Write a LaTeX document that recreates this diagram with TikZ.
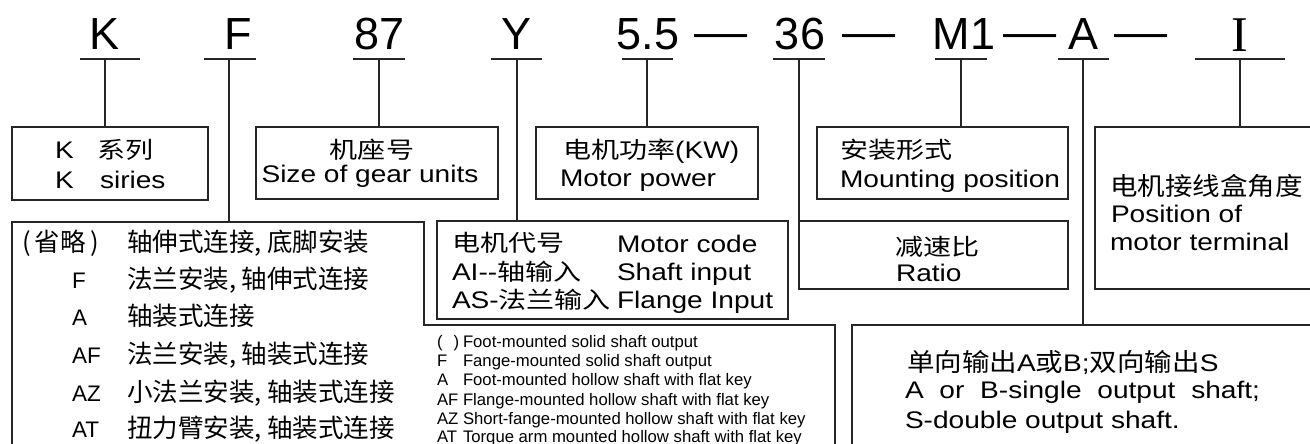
\documentclass[tikz,border=0pt]{standalone}
\usepackage{fontspec}
\setmainfont{Liberation Sans}
\newfontfamily\lat[FakeStretch=1.17]{Liberation Sans}
\newfontfamily\latn{Liberation Sans}
\newfontfamily\ser{Liberation Serif}
\newfontfamily\cjk{Noto Sans CJK SC}
\newfontfamily\cjkw[FakeStretch=1.22]{Noto Sans CJK SC}
\newfontfamily\cjkm[FakeStretch=1.1]{Noto Sans CJK SC}
\newcommand\myfs[1]{\fontsize{#1}{#1}\selectfont}
\tikzset{
  txt/.style={inner sep=0pt, outer sep=0pt, anchor=base west, text=black},
  txtc/.style={inner sep=0pt, outer sep=0pt, anchor=base, text=black},
  code/.style={inner sep=0pt, outer sep=0pt, anchor=base, text=black, font=\latn\myfs{45}},
  dashsym/.style={inner sep=0pt, outer sep=0pt, anchor=base, text=black, font=\latn\myfs{45}},
  ln/.style={draw=black!85, line width=1.2pt},
  bx/.style={draw=black!85, line width=1.2pt, anchor=north west, inner sep=0pt, outer sep=0pt},
  boxlat/.style={txt, font=\lat\myfs{24}},
  boxcjk/.style={txt, font=\cjkw\myfs{23}},
  listlat/.style={txt, font=\latn\myfs{22.5}},
  listcjk/.style={txt, font=\cjk\myfs{25.5}},
  small/.style={txt, font=\latn\myfs{16.7}},
}
\begin{document}
\begin{tikzpicture}[x=1pt,y=-1pt]
\useasboundingbox (0,0) rectangle (1310,444);
\clip (0,0) rectangle (1310,444);
% ---- code letters ----
\node[code] (cK) at (105,50) {K};
\node[code] (cF) at (238,50) {F};
\node[code] (c87) at (380,50) {87};
\node[code] (cY) at (517,50) {Y};
\node[code] (c55) at (648,50) {5.5};
\node[dashsym] (d1) at (721,48) {\scalebox{1.18}[1]{—}};
\node[code] (c36) at (800,50) {36};
\node[dashsym] (d2) at (869,48) {\scalebox{1.18}[1]{—}};
\node[code] (cM) at (964,50) {M1};
\node[dashsym] (d3) at (1030,48) {\scalebox{1.18}[1]{—}};
\node[code] (cA) at (1083,50) {A};
\node[dashsym] (d4) at (1141,48) {\scalebox{1.18}[1]{—}};
\node[code, font=\ser\myfs{50}] (cI) at (1240,51.7) {I};
% ---- underline anchors ----
\coordinate (uK) at (105,59);
\coordinate (uF) at (229,59);
\coordinate (u87) at (379,59);
\coordinate (uY) at (517,59);
\coordinate (u55) at (647,59);
\coordinate (u36) at (799,59);
\coordinate (uM) at (961,59);
\coordinate (uA) at (1083,59);
\coordinate (uI) at (1240,59);
\draw[ln] (uK) ++(-25,0) -- ++(60,0);
\draw[ln] (uF) ++(-25,0) -- ++(52,0);
\draw[ln] (u87) ++(-26,0) -- ++(52,0);
\draw[ln] (uY) ++(-26,0) -- ++(51,0);
\draw[ln] (u55) ++(-25,0) -- ++(51,0);
\draw[ln] (u36) ++(-26,0) -- ++(52,0);
\draw[ln] (uM) ++(-26,0) -- ++(52,0);
\draw[ln] (uA) ++(-25,0) -- ++(51,0);
\draw[ln] (uI) ++(-45,0) -- ++(90,0);
% ---- boxes ----
\node[bx, minimum width=196pt, minimum height=73pt] (boxK) at (12,127) {};
\node[bx, minimum width=242pt, minimum height=72pt] (boxSize) at (256,127) {};
\node[bx, minimum width=222pt, minimum height=72pt] (boxPower) at (536,127) {};
\node[bx, minimum width=251pt, minimum height=72pt] (boxMount) at (817,127) {};
\node[bx, minimum width=240pt, minimum height=162pt] (boxTerm) at (1095,127) {};
\node[bx, minimum width=269pt, minimum height=68pt] (boxRatio) at (799,221) {};
\node[bx, minimum width=351pt, minimum height=98pt] (boxCode) at (437,221) {};
\node[bx, minimum width=480pt, minimum height=140pt] (boxOut) at (852,325) {};
\coordinate (Ftop) at (229,222);
\draw[ln] (12,470) -- (12,222) -- (424,222) -- (424,325) -- (835,325) -- (835,470);
% ---- connectors ----
\draw[ln] (uK) -- (uK |- boxK.north);
\draw[ln] (uF) -- (Ftop);
\draw[ln] (u87) -- (u87 |- boxSize.north);
\draw[ln] (uY) -- (uY |- boxCode.north);
\draw[ln] (u55) -- (u55 |- boxPower.north);
\draw[ln] (u36) -- (boxRatio.north west);
\draw[ln] (uM) -- (uM |- boxMount.north);
\draw[ln] (uA) -- (uA |- boxOut.north);
\draw[ln] (uI) -- (uI |- boxTerm.north);
% ---- box texts ----
\node[boxlat] (tK1) at (55,158) {K};
\node[boxcjk] (tK2) at (97,158) {系列};
\node[boxlat] (tK3) at (55,188) {K};
\node[boxlat] (tK4) at (100,188) {siries};
\node[txtc, font=\cjkw\myfs{23}] (tS1) at (372,158) {机座号};
\node[txtc, font=\lat\myfs{24}] (tS2) at (370,182) {Size of gear units};
\node[boxcjk] (tP1) at (563,158) {电机功率{\lat\myfs{24}(KW)}};
\node[boxlat] (tP2) at (560,186) {Motor power};
\node[boxcjk] (tM1) at (840,158) {安装形式};
\node[boxlat] (tM2) at (840,187) {Mounting position};
\node[txt, font=\cjkm\myfs{25}] (tT1) at (1110,195) {电机接线盒角度};
\node[boxlat] (tT2) at (1111,222) {Position of};
\node[boxlat] (tT3) at (1110,250) {motor terminal};
\node[boxcjk] (tR1) at (895,255) {减速比};
\node[boxlat] (tR2) at (896,281) {Ratio};
\node[boxcjk] (tC1) at (452,251) {电机代号};
\node[boxlat] (tC2) at (617,252) {Motor code};
\node[boxcjk] (tC3) at (452,280) {{\lat\myfs{24}AI--}轴输入};
\node[boxlat] (tC4) at (617,280) {Shaft input};
\node[boxcjk] (tC5) at (452,308) {{\lat\myfs{24}AS-}法兰输入};
\node[boxlat] (tC6) at (617,308) {Flange Input};
% ---- F list (Chinese) ----
\node[listcjk] (f0a) at (22,251) {(\,省略\,)};
\node[listcjk] (f0b) at (127,251) {轴伸式连接, 底脚安装};
\node[listlat] (f1a) at (72,288) {F};
\node[listcjk] (f1b) at (127,288) {法兰安装, 轴伸式连接};
\node[listlat] (f2a) at (72,325) {A};
\node[listcjk] (f2b) at (127,325) {轴装式连接};
\node[listlat] (f3a) at (72,363) {AF};
\node[listcjk] (f3b) at (127,363) {法兰安装, 轴装式连接};
\node[listlat] (f4a) at (72,401) {AZ};
\node[listcjk] (f4b) at (127,401) {小法兰安装, 轴装式连接};
\node[listlat] (f5a) at (72,437) {AT};
\node[listcjk] (f5b) at (127,437) {扭力臂安装, 轴装式连接};
% ---- F list (English) ----
\node[small] (e0a) at (437,347) {(\hspace{11pt})};
\node[small] (e0b) at (463,347) {Foot-mounted solid shaft output};
\node[small] (e1a) at (437,366) {F};
\node[small] (e1b) at (463,366) {Fange-mounted solid shaft output};
\node[small] (e2a) at (437,385) {A};
\node[small] (e2b) at (463,385) {Foot-mounted hollow shaft with flat key};
\node[small] (e3a) at (437,405) {AF};
\node[small] (e3b) at (463,405) {Flange-mounted hollow shaft with flat key};
\node[small] (e4a) at (437,424) {AZ};
\node[small] (e4b) at (463,424) {Short-fange-mounted hollow shaft with flat key};
\node[small] (e5a) at (437,442) {AT};
\node[small] (e5b) at (463,442) {Torque arm mounted hollow shaft with flat key};
% ---- output box ----
\node[txt, font=\cjkm\myfs{25}] (o1) at (907,371) {单向输出{\lat\myfs{24}A}或{\lat\myfs{24}B;}双向输出{\lat\myfs{24}S}};
\node[boxlat] (o2) at (905,398) {\makebox[355pt][s]{A or B-single output shaft;}};
\node[boxlat] (o3) at (905,428) {S-double output shaft.};
\end{tikzpicture}
\end{document}
